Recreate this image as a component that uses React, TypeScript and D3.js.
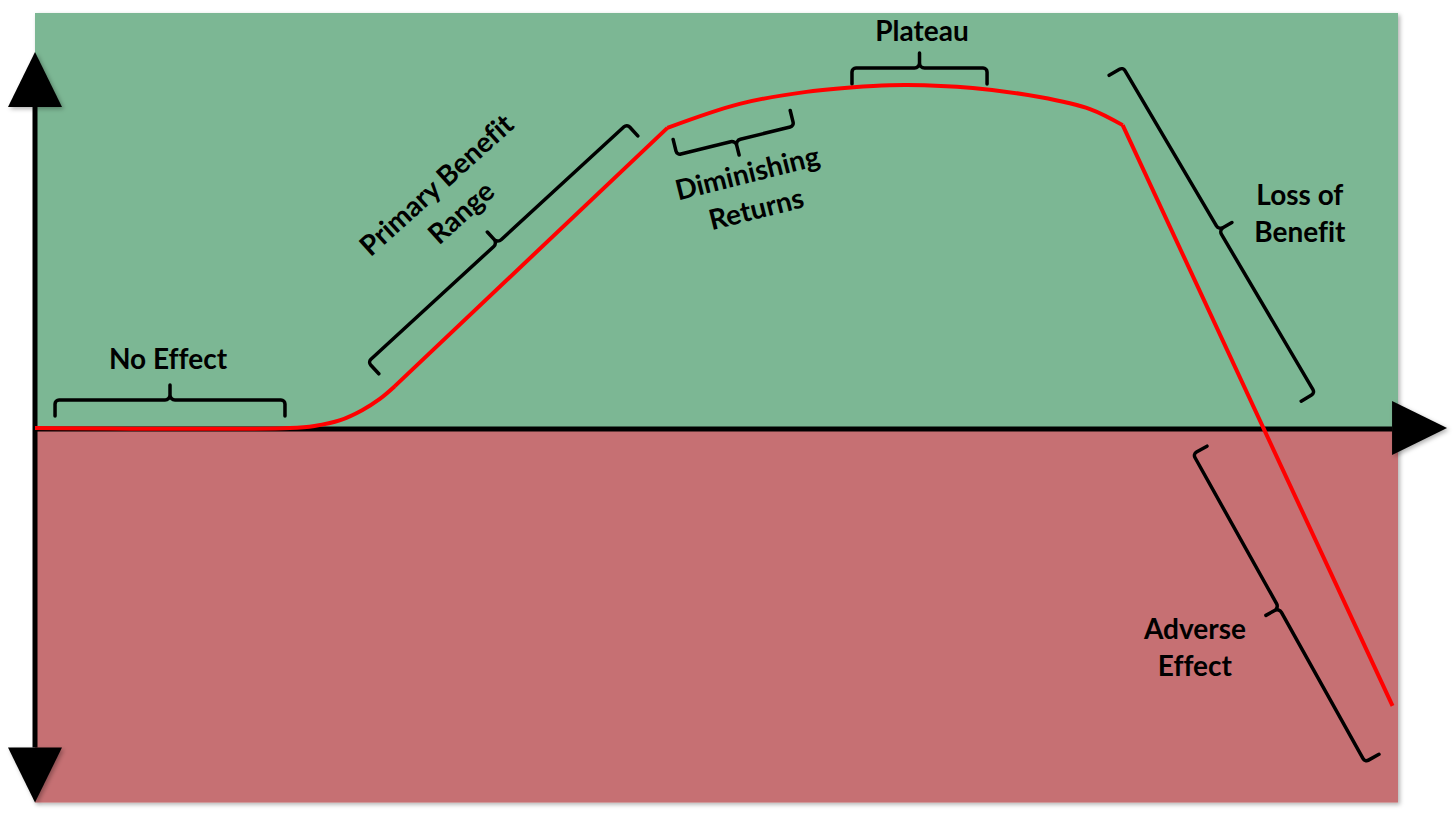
import * as d3 from "d3";

const width = 1456;
const height = 817;

// dose (0-100) against effect
const doseLevels = [0, 18.7, 20.5, 22.4, 24.0, 25.3, 26.4, 46.4, 51.7, 56.6, 61.5, 64.0, 68.8, 73.7, 77.4, 79.8, 99.6];
const effectLevels = [0, 0, 0.6, 2.3, 5.2, 8.5, 12.2, 87.5, 94.5, 98.0, 99.7, 100, 99.1, 96.5, 93.0, 88.3, -81.0];
// stretches of the curve: [first index, last index, smooth?]
const curveStretches: [number, number, boolean][] = [
  [0, 6, true],
  [6, 7, false],
  [7, 15, true],
  [15, 16, false],
];

// zone brackets (dose, effect)
const zoneNames = ["No Effect", "Primary Benefit|Range", "Diminishing|Returns", "Plateau", "Loss of|Benefit", "Adverse|Effect"];
const bracketFrom = [[1.47, 8.16], [24.43, 19.24], [47.1, 79.6], [59.94, 104.96], [79.82, 105.2], [84.96, -7.58]];
const bracketTo = [[18.34, 8.16], [43.43, 88.6], [55.69, 88.05], [69.85, 104.96], [93.91, 10.2], [97.58, -97.4]];
const bracketSide = [1, 1, -1, 1, 1, -1];
const labelAt = [[9.76, 20.4], [30.3, 67.1], [52.57, 69.4], [65.08, 115.9], [92.8, 62.7], [85.1, -63.7]];
const labelAngle = [0, -42, -14, 0, 0, 0];

const panelDose = [0, 100];
const panelEffect = [-109.2, 121];
const axisEnds = { top: 109.6, bottom: -109.2, right: 103.6 };

const x = d3.scaleLinear().domain([0, 100]).range([35, 1398]);
const y = d3.scaleLinear().domain([0, 100]).range([428, 85]);

const bracketPath = (a: number[], b: number[], side: number) => {
  const hook = 16;
  const tick = 15;
  const dx = b[0] - a[0];
  const dy = b[1] - a[1];
  const len = Math.hypot(dx, dy);
  const nx = (-dy / len) * side;
  const ny = (dx / len) * side;
  const m = [(a[0] + b[0]) / 2, (a[1] + b[1]) / 2];
  const t = [m[0] - nx * tick, m[1] - ny * tick];
  const p = d3.path();
  for (const c of [a, b]) {
    p.moveTo(c[0] + nx * hook, c[1] + ny * hook);
    p.arcTo(c[0], c[1], m[0], m[1], 4);
    p.arcTo(m[0], m[1], t[0], t[1], 5);
    p.lineTo(t[0], t[1]);
  }
  return p.toString();
};

export default function App() {
  const pts = doseLevels.map((d, i) => [x(d), y(effectLevels[i])] as [number, number]);
  const curvePath = curveStretches
    .map(([s, e, smooth]) =>
      d3.line().curve(smooth ? d3.curveCatmullRom.alpha(0.5) : d3.curveLinear)(pts.slice(s, e + 1))
    )
    .join("");

  const x0 = x(panelDose[0]);
  const x1 = x(panelDose[1]);
  const yTop = y(panelEffect[1]);
  const yZero = y(0);
  const yBot = y(panelEffect[0]);
  const ax = x(0);
  const aLen = 55;
  const aHalf = 27;
  const apexTop = y(axisEnds.top);
  const apexBot = y(axisEnds.bottom);
  const apexRight = x(axisEnds.right);

  const tri = (p: number[][]) => p.map((q) => q.join(",")).join(" ");

  return (
    <svg
      width={width}
      height={height}
      style={{ position: "absolute", left: 0, top: 0, background: "#fff" }}
      fontFamily="Lato, 'Open Sans', sans-serif"
    >
      <defs>
        <filter id="shadow" x="-5%" y="-5%" width="110%" height="110%">
          <feDropShadow dx="2" dy="2" stdDeviation="2" floodColor="#000" floodOpacity="0.3" />
        </filter>
      </defs>
      <g filter="url(#shadow)">
        <rect x={x0} y={yTop} width={x1 - x0} height={yZero - yTop} fill="#7BB794" />
        <rect x={x0} y={yZero} width={x1 - x0} height={yBot - yZero} fill="#C67073" />
      </g>

      {/* axes */}
      <line x1={ax} x2={ax} y1={apexTop + aLen} y2={apexBot - aLen} stroke="#000" strokeWidth={5} />
      <line x1={ax} x2={apexRight - aLen} y1={yZero + 1} y2={yZero + 1} stroke="#000" strokeWidth={5} />
      <g filter="url(#shadow)" fill="#000">
        <polygon points={tri([[ax, apexTop], [ax - aHalf, apexTop + aLen], [ax + aHalf, apexTop + aLen]])} />
        <polygon points={tri([[ax, apexBot], [ax - aHalf, apexBot - aLen], [ax + aHalf, apexBot - aLen]])} />
        <polygon
          points={tri([[apexRight, yZero], [apexRight - aLen, yZero - aHalf], [apexRight - aLen, yZero + aHalf]])}
        />
      </g>

      {/* brackets */}
      {zoneNames.map((_, i) => (
        <path
          key={"b" + i}
          d={bracketPath(
            [x(bracketFrom[i][0]), y(bracketFrom[i][1])],
            [x(bracketTo[i][0]), y(bracketTo[i][1])],
            bracketSide[i]
          )}
          fill="none"
          stroke="#000"
          strokeWidth={3.5}
          strokeLinecap="round"
        />
      ))}

      {/* response curve */}
      <path d={curvePath} fill="none" stroke="#FF0000" strokeWidth={4} strokeLinejoin="round" />

      {/* labels */}
      {zoneNames.map((name, i) => {
        const lines = name.split("|");
        return (
          <g
            key={"l" + i}
            transform={`translate(${x(labelAt[i][0])},${y(labelAt[i][1])}) rotate(${labelAngle[i]})`}
          >
            {lines.map((ln, j) => (
              <text
                key={j}
                y={(j - (lines.length - 1) / 2) * 37}
                textAnchor="middle"
                dominantBaseline="central"
                fontSize={28}
                fontWeight="bold"
                fill="#000"
                style={{ fontVariantLigatures: "none" }}
              >
                {ln}
              </text>
            ))}
          </g>
        );
      })}
    </svg>
  );
}
